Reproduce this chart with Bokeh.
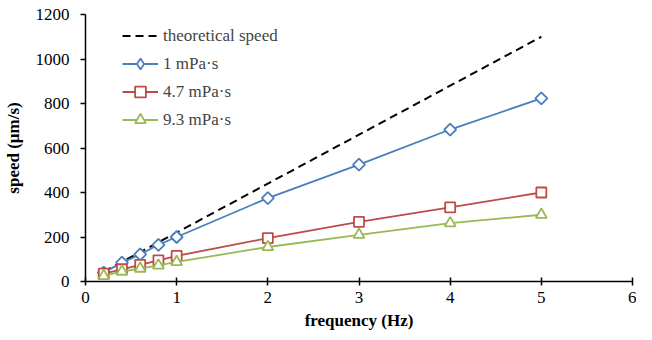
from bokeh.plotting import figure
from bokeh.models import Range1d, Legend, LegendItem, FixedTicker
from bokeh.embed import file_html
from bokeh.resources import INLINE
import numpy as np

freq = [0.2, 0.4, 0.6, 0.8, 1, 2, 3, 4, 5]
theoretical = [44, 88, 132, 176, 220, 440, 660, 880, 1100]
visc_1 = [40, 85, 122, 165, 200, 375, 525, 683, 823]
visc_4_7 = [35, 55, 75, 95, 115, 195, 268, 333, 400]
visc_9_3 = [25, 45, 58, 72, 88, 155, 210, 262, 300]
x_ticks = [0, 1, 2, 3, 4, 5, 6]
y_ticks = [0, 200, 400, 600, 800, 1000, 1200]

FONT = "Liberation Serif"
FS = "17px"
BLUE, RED, GREEN = "#4a7ebb", "#be4b48", "#98b954"
LW = 1.8

p = figure(width=636, height=332, output_backend="svg", toolbar_location=None,
           x_range=Range1d(0, 6), y_range=Range1d(0, 1200),
           min_border_left=81, min_border_right=4, min_border_top=14, min_border_bottom=40)
p.outline_line_color = None
p.xgrid.visible = False
p.ygrid.visible = False

r_th = p.line(freq, theoretical, line_color="black", line_width=2, line_dash="8 5")
r1 = p.line(freq, visc_1, line_color=BLUE, line_width=LW)
m1 = p.scatter(freq, visc_1, marker="square", size=8.5, angle=np.pi / 4,
               line_color=BLUE, fill_color="white", line_width=LW)
# legend sample only (hidden on the plot)
m1_leg = p.scatter(freq, visc_1, marker="diamond", size=12, line_color=BLUE,
                   fill_color="white", line_width=LW, visible=False)
r2 = p.line(freq, visc_4_7, line_color=RED, line_width=LW)
m2 = p.scatter(freq, visc_4_7, marker="square", size=10, line_color=RED, fill_color="white", line_width=LW)
r3 = p.line(freq, visc_9_3, line_color=GREEN, line_width=LW)
m3 = p.scatter(freq, visc_9_3, marker="triangle", size=11, line_color=GREEN, fill_color="white", line_width=LW)

for ax in (p.xaxis[0], p.yaxis[0]):
    ax.axis_line_width = 1.5
    ax.major_tick_line_width = 1.5
    ax.minor_tick_line_color = None
    ax.major_label_text_font = FONT
    ax.major_label_text_font_size = FS
    ax.major_label_text_color = "black"
    ax.axis_label_text_font = FONT
    ax.axis_label_text_font_size = FS
    ax.axis_label_text_font_style = "bold"
    ax.axis_label_text_color = "black"

p.xaxis[0].ticker = FixedTicker(ticks=x_ticks)
p.yaxis[0].ticker = FixedTicker(ticks=y_ticks)
p.xaxis[0].major_tick_in = 4
p.xaxis[0].major_tick_out = 4
p.yaxis[0].major_tick_in = 0
p.yaxis[0].major_tick_out = 5
p.xaxis[0].axis_label = "frequency (Hz)"
p.yaxis[0].axis_label = "speed (μm/s)"
p.xaxis[0].major_label_standoff = 6
p.yaxis[0].major_label_standoff = 11
p.xaxis[0].axis_label_standoff = 5
p.yaxis[0].axis_label_standoff = 10

legend = Legend(items=[
    LegendItem(label="theoretical speed", renderers=[r_th]),
    LegendItem(label="1 mPa·s", renderers=[r1, m1_leg]),
    LegendItem(label="4.7 mPa·s", renderers=[r2, m2]),
    LegendItem(label="9.3 mPa·s", renderers=[r3, m3]),
], location=(37, 148))
legend.border_line_color = None
legend.background_fill_alpha = 0
legend.label_text_font = FONT
legend.label_text_font_size = FS
legend.glyph_width = 36
legend.glyph_height = 27
legend.spacing = 1
legend.label_standoff = 5
legend.margin = 0
legend.padding = 4
p.add_layout(legend)

open("out.html", "w").write(file_html(p, INLINE))
